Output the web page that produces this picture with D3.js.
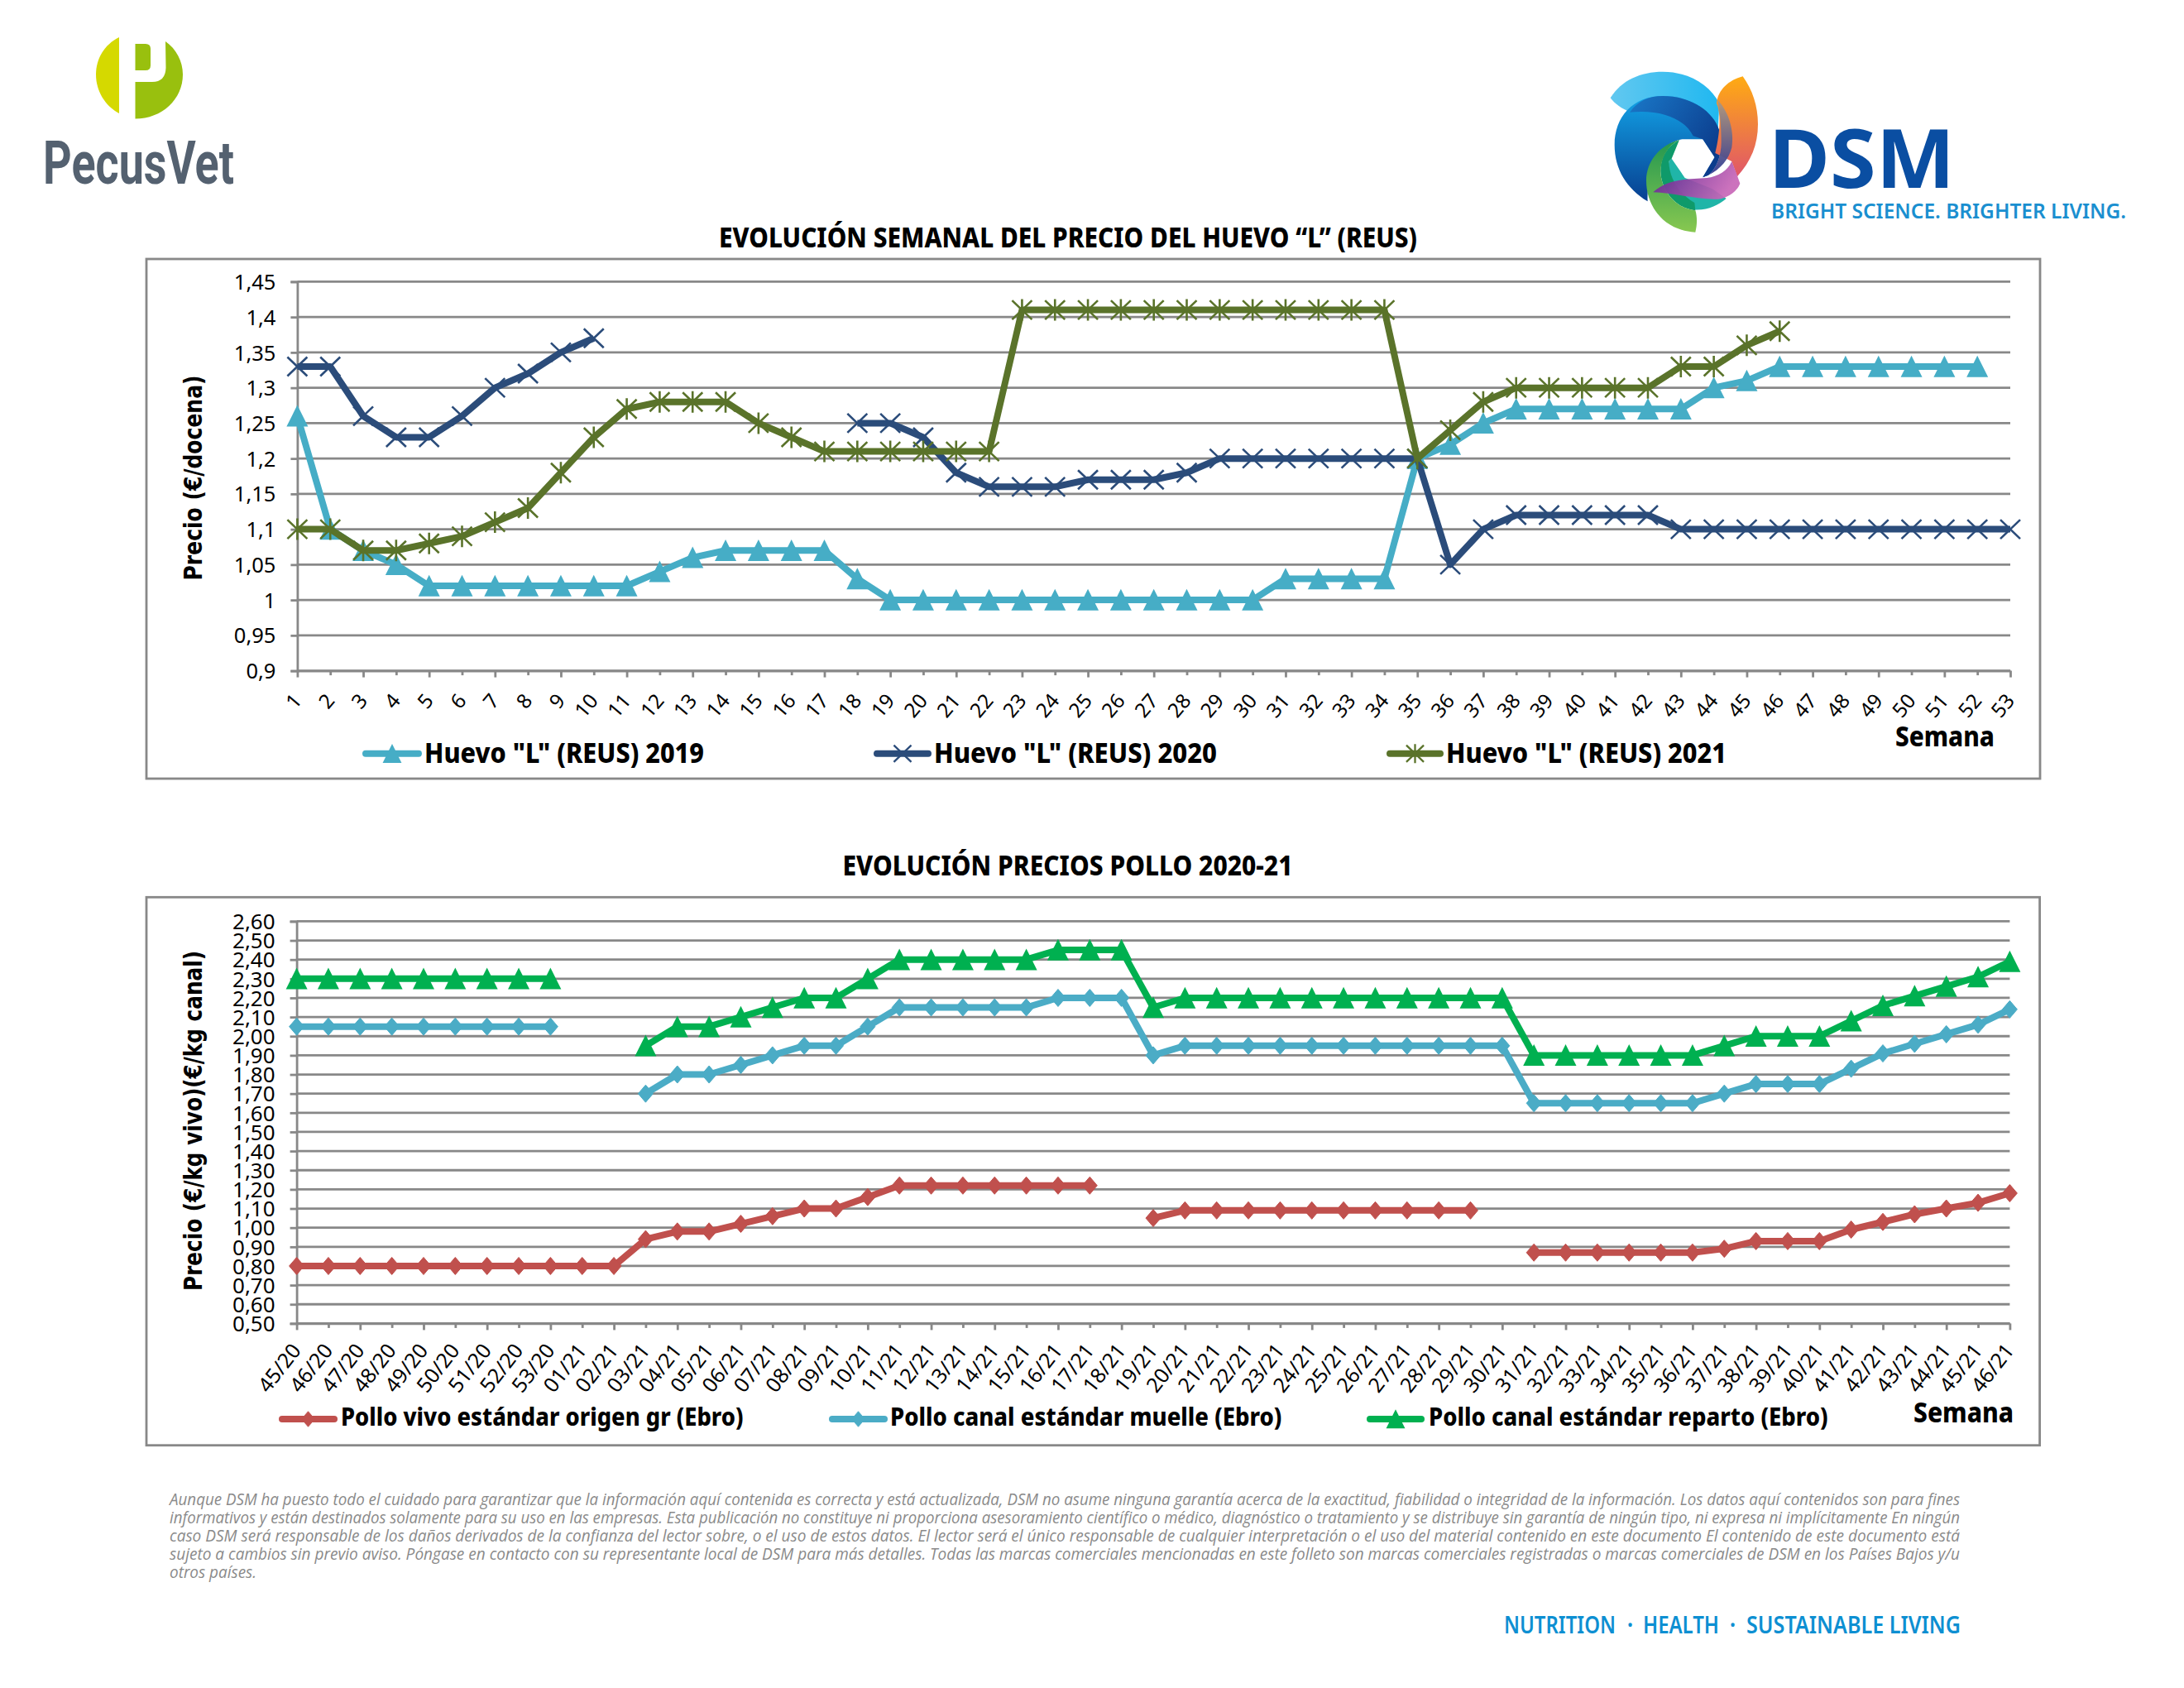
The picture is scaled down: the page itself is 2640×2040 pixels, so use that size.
<!DOCTYPE html>
<html><head><meta charset="utf-8">
<script src="https://cdn.jsdelivr.net/npm/d3@7/dist/d3.min.js"></script>
<style>html,body{margin:0;padding:0;background:#fff}svg{display:block}</style>
</head><body><svg id="c" width="2640" height="2040" viewBox="0 0 2640 2040"></svg>
<script>
// ---------- data ----------
const weeks = ["1","2","3","4","5","6","7","8","9","10","11","12","13","14","15","16","17","18","19","20","21","22","23","24","25","26","27","28","29","30","31","32","33","34","35","36","37","38","39","40","41","42","43","44","45","46","47","48","49","50","51","52","53"];
const huevo2019 = [1.26,1.10,1.07,1.05,1.02,1.02,1.02,1.02,1.02,1.02,1.02,1.04,1.06,1.07,1.07,1.07,1.07,1.03,1.00,1.00,1.00,1.00,1.00,1.00,1.00,1.00,1.00,1.00,1.00,1.00,1.03,1.03,1.03,1.03,1.20,1.22,1.25,1.27,1.27,1.27,1.27,1.27,1.27,1.30,1.31,1.33,1.33,1.33,1.33,1.33,1.33,1.33,null];
const huevo2020 = [1.33,1.33,1.26,1.23,1.23,1.26,1.30,1.32,1.35,1.37,null,null,null,null,null,null,null,1.25,1.25,1.23,1.18,1.16,1.16,1.16,1.17,1.17,1.17,1.18,1.20,1.20,1.20,1.20,1.20,1.20,1.20,1.05,1.10,1.12,1.12,1.12,1.12,1.12,1.10,1.10,1.10,1.10,1.10,1.10,1.10,1.10,1.10,1.10,1.10];
const huevo2021 = [1.10,1.10,1.07,1.07,1.08,1.09,1.11,1.13,1.18,1.23,1.27,1.28,1.28,1.28,1.25,1.23,1.21,1.21,1.21,1.21,1.21,1.21,1.41,1.41,1.41,1.41,1.41,1.41,1.41,1.41,1.41,1.41,1.41,1.41,1.20,1.24,1.28,1.30,1.30,1.30,1.30,1.30,1.33,1.33,1.36,1.38,null,null,null,null,null,null,null];
const eggTicks = [1.45,1.4,1.35,1.3,1.25,1.2,1.15,1.1,1.05,1,0.95,0.9];
const eggTickLabels = ["1,45","1,4","1,35","1,3","1,25","1,2","1,15","1,1","1,05","1","0,95","0,9"];

const periods = ["45/20","46/20","47/20","48/20","49/20","50/20","51/20","52/20","53/20","01/21","02/21","03/21","04/21","05/21","06/21","07/21","08/21","09/21","10/21","11/21","12/21","13/21","14/21","15/21","16/21","17/21","18/21","19/21","20/21","21/21","22/21","23/21","24/21","25/21","26/21","27/21","28/21","29/21","30/21","31/21","32/21","33/21","34/21","35/21","36/21","37/21","38/21","39/21","40/21","41/21","42/21","43/21","44/21","45/21","46/21"];
const polloVivo = [0.80,0.80,0.80,0.80,0.80,0.80,0.80,0.80,0.80,0.80,0.80,0.94,0.98,0.98,1.02,1.06,1.10,1.10,1.16,1.22,1.22,1.22,1.22,1.22,1.22,1.22,null,1.05,1.09,1.09,1.09,1.09,1.09,1.09,1.09,1.09,1.09,1.09,null,0.87,0.87,0.87,0.87,0.87,0.87,0.89,0.93,0.93,0.93,0.99,1.03,1.07,1.10,1.13,1.18];
const polloMuelle = [2.05,2.05,2.05,2.05,2.05,2.05,2.05,2.05,2.05,null,null,1.70,1.80,1.80,1.85,1.90,1.95,1.95,2.05,2.15,2.15,2.15,2.15,2.15,2.20,2.20,2.20,1.90,1.95,1.95,1.95,1.95,1.95,1.95,1.95,1.95,1.95,1.95,1.95,1.65,1.65,1.65,1.65,1.65,1.65,1.70,1.75,1.75,1.75,1.83,1.91,1.96,2.01,2.06,2.14];
const polloReparto = [2.30,2.30,2.30,2.30,2.30,2.30,2.30,2.30,2.30,null,null,1.95,2.05,2.05,2.10,2.15,2.20,2.20,2.30,2.40,2.40,2.40,2.40,2.40,2.45,2.45,2.45,2.15,2.20,2.20,2.20,2.20,2.20,2.20,2.20,2.20,2.20,2.20,2.20,1.90,1.90,1.90,1.90,1.90,1.90,1.95,2.00,2.00,2.00,2.08,2.16,2.21,2.26,2.31,2.39];
const polloTicks = [2.6,2.5,2.4,2.3,2.2,2.1,2.0,1.9,1.8,1.7,1.6,1.5,1.4,1.3,1.2,1.1,1.0,0.9,0.8,0.7,0.6,0.5];
const polloTickLabels = ["2,60","2,50","2,40","2,30","2,20","2,10","2,00","1,90","1,80","1,70","1,60","1,50","1,40","1,30","1,20","1,10","1,00","0,90","0,80","0,70","0,60","0,50"];

const disclaimer = [
"Aunque DSM ha puesto todo el cuidado para garantizar que la información aquí contenida es correcta y está actualizada, DSM no asume ninguna garantía acerca de la exactitud, fiabilidad o integridad de la información. Los datos aquí contenidos son para fines",
"informativos y están destinados solamente para su uso en las empresas. Esta publicación no constituye ni proporciona asesoramiento científico o médico, diagnóstico o tratamiento y se distribuye sin garantía de ningún tipo, ni expresa ni implícitamente En ningún",
"caso DSM será responsable de los daños derivados de la confianza del lector sobre, o el uso de estos datos. El lector será el único responsable de cualquier interpretación o el uso del material contenido en este documento El contenido de este documento está",
"sujeto a cambios sin previo aviso. Póngase en contacto con su representante local de DSM para más detalles. Todas las marcas comerciales mencionadas en este folleto son marcas comerciales registradas o marcas comerciales de DSM en los Países Bajos y/u",
"otros países."];

// ---------- helpers ----------
const svg = d3.select("#c");
const GRID = "#888888", SANS = "'Noto Sans','Open Sans',sans-serif";
function label(x, y, s, w, o={}) {
  const t = svg.append("text").attr("x", x).attr("y", y).text(s)
    .attr("font-family", o.family || SANS).attr("font-size", o.size || 32)
    .attr("font-weight", o.weight || 700).attr("fill", o.fill || "#000");
  if (o.style) t.attr("font-style", o.style);
  if (w) t.attr("textLength", w).attr("lengthAdjust", "spacingAndGlyphs");
  return t;
}
const markers = {
  triangle: (g, c) => g.append("path").attr("d", "M0,-13.3 L13,12.7 L-13,12.7 Z").attr("fill", c),
  diamond:  (g, c) => g.append("path").attr("d", "M0,-10.5 L9,0 L0,10.5 L-9,0 Z").attr("fill", c).attr("stroke", c).attr("stroke-width", 1).attr("stroke-linejoin", "round"),
  cross:    (g, c) => g.append("path").attr("d", "M-12,-11.5 L12,11.5 M-12,11.5 L12,-11.5").attr("fill", "none").attr("stroke", c).attr("stroke-width", 2.6),
  star:     (g, c) => g.append("path").attr("d", "M-12,-11.5 L12,11.5 M-12,11.5 L12,-11.5 M0,-13 L0,13").attr("fill", "none").attr("stroke", c).attr("stroke-width", 2.6)
};
function drawChart(cfg) {
  const x = d3.scalePoint().domain(cfg.cats).range([cfg.left, cfg.right]);
  const y = d3.scaleLinear().domain([cfg.ticks[cfg.ticks.length-1], cfg.ticks[0]]).range([cfg.bottom, cfg.top]);
  // frame
  svg.append("rect").attr("x", cfg.box[0]).attr("y", cfg.box[1]).attr("width", cfg.box[2]-cfg.box[0]).attr("height", cfg.box[3]-cfg.box[1])
    .attr("fill", "#fff").attr("stroke", GRID).attr("stroke-width", 2.8);
  // gridlines
  svg.append("g").selectAll("line").data(cfg.ticks).join("line")
    .attr("x1", cfg.left).attr("x2", cfg.right).attr("y1", d => y(d)).attr("y2", d => y(d))
    .attr("stroke", GRID).attr("stroke-width", 2.8);
  // y axis
  const ya = svg.append("g").attr("transform", `translate(${cfg.left},0)`)
    .call(d3.axisLeft(y).tickValues(cfg.ticks).tickSize(8).tickPadding(18).tickFormat((d,i) => cfg.tickLabels[i]));
  ya.selectAll("path,line").attr("stroke", GRID).attr("stroke-width", 2.8);
  ya.selectAll("text").attr("font-family", SANS).attr("font-size", cfg.ySize).attr("fill", "#000").attr("dy", ".357em");
  // x axis
  const xa = svg.append("g").attr("transform", `translate(0,${cfg.bottom})`)
    .call(d3.axisBottom(x).tickSize(8).tickSizeOuter(0));
  xa.select("path").attr("stroke", GRID).attr("stroke-width", 2.8);
  xa.selectAll("line").attr("stroke", GRID).attr("stroke-width", 2.8).attr("y2", (d,i) => i % 2 ? 5.5 : 8);
  xa.selectAll("text").attr("font-family", SANS).attr("font-size", cfg.xSize).attr("fill", "#000")
    .attr("text-anchor", "end").attr("y", 0).attr("dy", 0)
    .attr("transform", `translate(${cfg.xDx},${cfg.xDy}) rotate(${cfg.xRot})`);
  // series
  cfg.series.forEach(s => {
    const line = d3.line().defined(d => d != null).x((d,i) => x(cfg.cats[i])).y(d => y(d));
    svg.append("path").attr("d", line(s.values)).attr("fill", "none").attr("stroke", s.color)
      .attr("stroke-width", cfg.lineWidth).attr("stroke-linejoin", "round").attr("stroke-linecap", "butt");
    const mg = svg.append("g");
    s.values.forEach((v,i) => {
      if (v == null) return;
      markers[s.marker](mg.append("g").attr("transform", `translate(${x(cfg.cats[i])},${y(v)})`), s.color);
    });
    // legend
    const L = s.legend;
    svg.append("line").attr("x1", L.x1).attr("x2", L.x2).attr("y1", L.y).attr("y2", L.y)
      .attr("stroke", s.color).attr("stroke-width", 8).attr("stroke-linecap", "round");
    markers[s.marker](svg.append("g").attr("transform", `translate(${(L.x1+L.x2)/2},${L.y}) scale(.88,.88)`), s.color);
    label(L.tx, L.ty, s.name, L.tw, {size: cfg.legendSize, weight: 800});
  });
}

// ---------- egg chart ----------
label(869, 298.5, "EVOLUCIÓN SEMANAL DEL PRECIO DEL HUEVO “L” (REUS)", 844, {size: 34, weight: 800});
drawChart({
  cats: weeks, ticks: eggTicks, tickLabels: eggTickLabels,
  left: 359.4, right: 2430, top: 340.4, bottom: 810.6, box: [177, 313, 2466, 941],
  ySize: 25.5, xSize: 24.5, xDx: 6, xDy: 37, xRot: -50, lineWidth: 8, legendSize: 33,
  series: [
    {name: 'Huevo "L" (REUS) 2019', values: huevo2019, color: "#46adc6", marker: "triangle", legend: {x1: 442, x2: 506, y: 910.7, tx: 513, ty: 921.5, tw: 338}},
    {name: 'Huevo "L" (REUS) 2020', values: huevo2020, color: "#2b4c7a", marker: "cross", legend: {x1: 1060, x2: 1122, y: 910.7, tx: 1129, ty: 921.5, tw: 342}},
    {name: 'Huevo "L" (REUS) 2021', values: huevo2021, color: "#5a732a", marker: "star", legend: {x1: 1680, x2: 1741, y: 910.7, tx: 1748, ty: 921.5, tw: 339}}
  ]
});
label(2291, 902, "Semana", 120, {size: 33, weight: 800});
label(0, 0, "Precio (€/docena)", 248, {size: 30, family: "'DejaVu Sans',sans-serif"}).attr("transform", "translate(244,701.5) rotate(-90)");

// ---------- chicken chart ----------
label(1018.5, 1058, "EVOLUCIÓN PRECIOS POLLO 2020-21", 544, {size: 34, weight: 800});
drawChart({
  cats: periods, ticks: polloTicks, tickLabels: polloTickLabels,
  left: 358.6, right: 2429.4, top: 1113.4, bottom: 1599.4, box: [177, 1084.3, 2465.6, 1746.7],
  ySize: 26, xSize: 25, xDx: 6, xDy: 33, xRot: -52, lineWidth: 8, legendSize: 31,
  series: [
    {name: "Pollo vivo estándar origen gr (Ebro)", values: polloVivo, color: "#c0504d", marker: "diamond", legend: {x1: 341, x2: 404, y: 1715, tx: 412, ty: 1723, tw: 486.5}},
    {name: "Pollo canal estándar muelle (Ebro)", values: polloMuelle, color: "#4bacc6", marker: "diamond", legend: {x1: 1006, x2: 1069, y: 1715, tx: 1076, ty: 1723, tw: 473.4}},
    {name: "Pollo canal estándar reparto (Ebro)", values: polloReparto, color: "#00b050", marker: "triangle", legend: {x1: 1656, x2: 1718, y: 1715, tx: 1727, ty: 1723, tw: 482.6}}
  ]
});
label(2313, 1719, "Semana", 121, {size: 33, weight: 800});
label(0, 0, "Precio (€/kg vivo)(€/kg canal)", 411, {size: 30, family: "'DejaVu Sans',sans-serif"}).attr("transform", "translate(244,1560) rotate(-90)");

// ---------- disclaimer & footer ----------
disclaimer.forEach((s,i) => label(205, 1819 + i*21.9, s, i < 4 ? 2164 : 105,
  {size: 19.5, weight: 400, style: "italic", fill: "#8a8a8a", family: "'Open Sans','Noto Sans',sans-serif"}));
const FOOT = "#0d8fd2";
label(1818, 1973.5, "NUTRITION", 135, {size: 29, weight: 600, fill: FOOT});
label(1967, 1973.5, "·", 7, {size: 29, weight: 700, fill: FOOT});
label(1986, 1973.5, "HEALTH", 92, {size: 29, weight: 600, fill: FOOT});
label(2091, 1973.5, "·", 7, {size: 29, weight: 700, fill: FOOT});
label(2111, 1973.5, "SUSTAINABLE LIVING", 259, {size: 29, weight: 600, fill: FOOT});

// ---------- PecusVet logo ----------
svg.append("path").attr("fill", "#d5d900").attr("d", "M144,45 C126,54 116,71 116,90 C116,110 127,128 144,137 Z");
svg.append("path").attr("fill", "#99c00e").attr("d", "M163.5,143.5 L163.5,99 L184,99 Q200,99 200.5,82 L200,50 C213,59 221,74 221,90 C221,120 196,143.5 163.5,143.5 Z");
svg.append("path").attr("fill", "#99c00e").attr("d", "M163.5,53 L176,53 Q182,53 182,59 L182,79 Q182,85 176,85 L163.5,85 Z");
label(52, 222, "PecusVet", 231, {size: 73, weight: 700, fill: "#546170", family: "'Liberation Sans Narrow','Roboto',sans-serif"});

// ---------- DSM logo ----------
const defs = svg.append("defs");
function grad(id, a, b, x2=0, y2=1) {
  const g = defs.append("linearGradient").attr("id", id).attr("x1", 0).attr("y1", 0).attr("x2", x2).attr("y2", y2);
  g.append("stop").attr("offset", 0).attr("stop-color", a);
  g.append("stop").attr("offset", 1).attr("stop-color", b);
}
grad("dSky", "#62c8f0", "#20b8f0", 1, 0);
grad("dBlue", "#12a2e6", "#083f90");
grad("dArc", "#1a78c8", "#0b3c8c", 1, 0.6);
grad("dOrange", "#ffab12", "#e0566a");
grad("dOver", "#b09a80", "#2f3a92");
grad("dGreen", "#229650", "#88c850");
grad("dPurple", "#5a2090", "#c868b8", 1, 0.3);
const dsm = svg.append("g").attr("transform", "translate(1930,75) scale(0.3333)");
const logoPart = (fill, d, op=1) => dsm.append("path").attr("fill", fill).attr("opacity", op).attr("d", d);
logoPart("url(#dSky)", "M50,130 C90,65 160,35 240,35 C330,35 410,80 445,150 L440,250 L300,240 L120,180 C90,170 65,150 50,130 Z");
logoPart("url(#dBlue)", "M185,505 C110,460 65,390 65,300 C65,200 130,123 240,123 C350,123 450,190 452,290 C452,340 435,385 405,410 L385,418 L428,345 L385,280 L310,280 C255,290 205,340 195,400 C188,440 183,480 185,505 Z");
logoPart("url(#dArc)", "M120,182 C150,140 190,123 240,123 C350,123 450,190 452,290 C452,340 435,385 405,410 L385,418 L428,345 L385,280 L350,268 C320,205 230,170 120,182 Z");
logoPart("url(#dOrange)", "M530,52 C565,100 585,160 585,225 C585,300 560,360 510,415 L490,360 L430,330 C450,250 450,180 435,150 C440,100 480,65 530,52 Z");
logoPart("url(#dOver)", "M437,135 C480,180 500,250 490,310 C480,350 450,390 405,410 C435,385 452,340 452,290 C452,230 447,180 437,135 Z", 0.95);
logoPart("#20b5a8", "M262,360 C255,420 280,500 350,535 C400,540 440,520 470,495 L420,460 L320,420 L272,350 Z");
logoPart("#0f9a6a", "M300,282 C250,310 230,350 232,400 C235,460 280,530 358,538 L355,510 C300,480 262,420 262,360 L272,350 Z");
logoPart("url(#dGreen)", "M300,282 C230,300 180,360 180,430 C180,520 240,610 358,617 C365,590 365,560 358,538 C280,530 235,460 232,400 C232,350 255,305 300,282 Z");
logoPart("url(#dPurple)", "M205,472 C260,420 340,425 400,420 C440,415 475,395 490,360 C500,385 510,410 520,440 C510,470 470,495 440,497 C370,500 280,475 205,472 Z", 0.93);
label(2138, 227, "DSM", 225, {size: 99, weight: 700, fill: "#0a4ea2"});
label(2141, 264, "BRIGHT SCIENCE. BRIGHTER LIVING.", 429, {size: 26, weight: 600, fill: "#1a8fd0"});
</script></body></html>
